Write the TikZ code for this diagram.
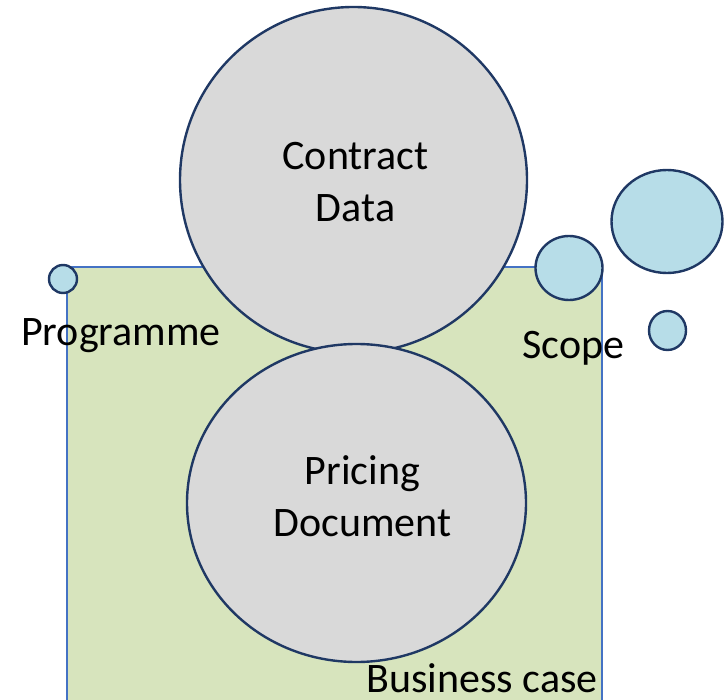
\documentclass[tikz,border=0pt]{standalone}
\usepackage{fontspec}
\setmainfont{Carlito}
\usetikzlibrary{shapes.geometric}
\definecolor{boxfill}{HTML}{D7E4BD}
\definecolor{boxline}{HTML}{4472C4}
\definecolor{grayfill}{HTML}{D9D9D9}
\definecolor{navy}{HTML}{1F3864}
\definecolor{aqua}{HTML}{B7DDE8}
\tikzset{
  bigcirc/.style={ellipse, draw=navy, fill=grayfill, line width=2.4pt, inner sep=0pt},
  smallcirc/.style={ellipse, draw=navy, fill=aqua, line width=2.4pt, inner sep=0pt},
  txt/.style={inner sep=0pt, align=center, font=\fontsize{42}{52}\selectfont},
  lbl/.style={anchor=base, inner sep=0pt, text depth=0pt, font=\fontsize{42}{52}\selectfont},
}
\begin{document}
\begin{tikzpicture}[x=1pt,y=-1pt]
\useasboundingbox (0,0) rectangle (725,700);
\node[draw=boxline, fill=boxfill, line width=2pt, minimum width=535pt, minimum height=434pt, anchor=north west, inner sep=0pt] (bc) at (66,266) {};
\node[bigcirc, minimum width=347pt, minimum height=346pt] (cd) at (353.5,180) {};
\node[bigcirc, minimum width=339pt, minimum height=318pt] (pd) at (356.5,503) {};
\node[txt] (cdt) at ([xshift=2pt,yshift=-2.5pt]cd.center) {Contract\\Data};
\node[txt] (pdt) at ([xshift=6pt,yshift=7pt]pd.center) {Pricing\\Document};
\node[smallcirc, minimum width=28pt, minimum height=28pt] (c1) at (63,279) {};
\node[smallcirc, minimum width=67pt, minimum height=64pt] (c2) at (569,268) {};
\node[smallcirc, minimum width=111pt, minimum height=103pt] (c3) at (667,221.5) {};
\node[smallcirc, minimum width=37pt, minimum height=39pt] (c4) at (667.5,330.5) {};
\node[lbl] (prog) at (121,345) {Programme};
\node[lbl] (scope) at (573.5,359) {Scope};
\node[lbl] (bcase) at (482,692) {Business case};
\end{tikzpicture}
\end{document}
